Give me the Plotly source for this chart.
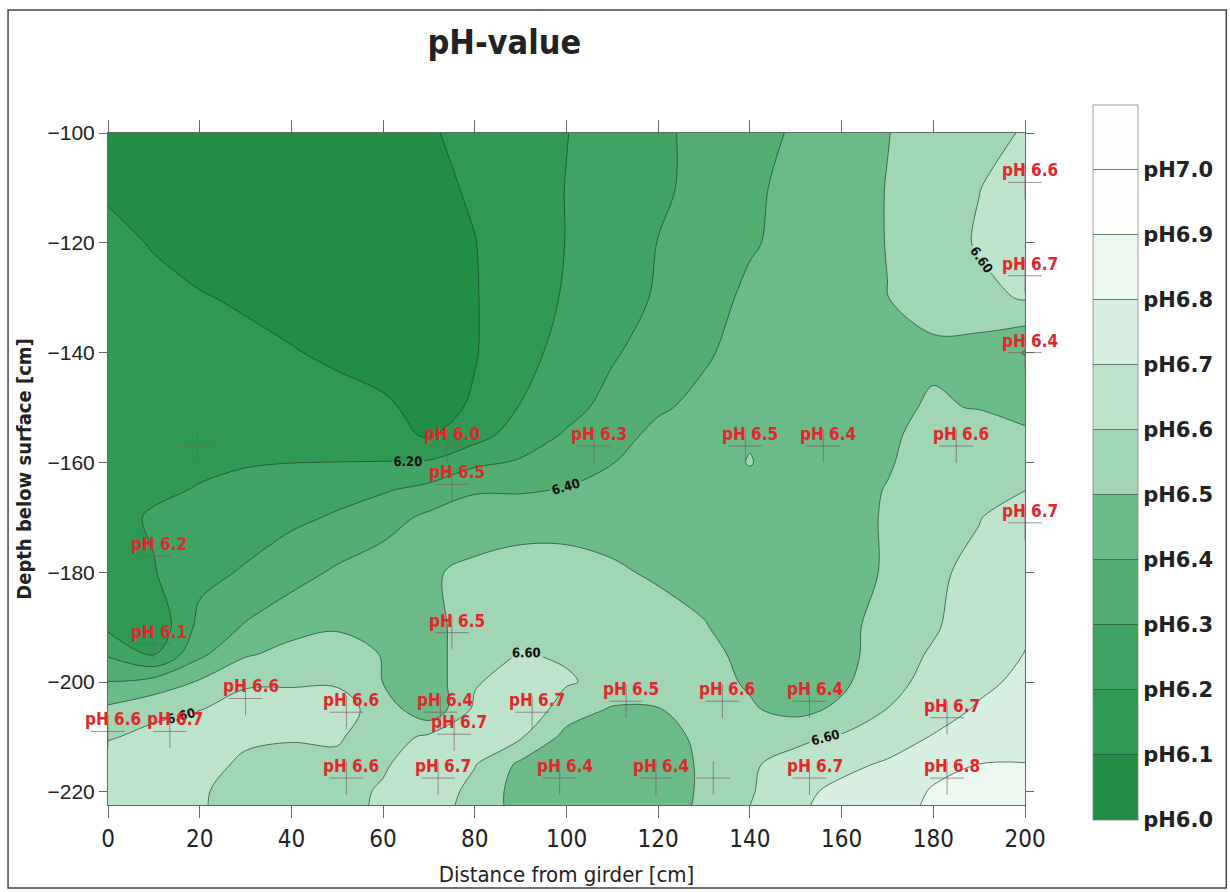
import plotly.graph_objects as go

# Grid of the interpolated pH field (distance from girder x depth below surface)
dist_cm = [0, 10, 20, 30, 40, 50, 60, 70, 80, 90, 100, 110, 120, 130, 140, 150, 160, 170, 180, 190, 200]
depth_cm = [-100, -110, -120, -130, -140, -150, -155, -160, -165, -170, -180, -190, -195,
            -200, -205, -210, -215, -220, -225]

ph_grid = [
    [6.06, 6.05, 6.04, 6.04, 6.04, 6.04, 6.05, 6.09, 6.13, 6.17, 6.198, 6.24, 6.28, 6.33, 6.37, 6.41, 6.45, 6.498, 6.53, 6.56, 6.61],
    [6.09, 6.07, 6.05, 6.04, 6.04, 6.04, 6.05, 6.08, 6.11, 6.16, 6.202, 6.24, 6.285, 6.325, 6.38, 6.43, 6.47, 6.502, 6.55, 6.598, 6.64],
    [6.12, 6.095, 6.07, 6.05, 6.04, 6.04, 6.04, 6.06, 6.098, 6.15, 6.202, 6.25, 6.302, 6.34, 6.39, 6.43, 6.47, 6.502, 6.55, 6.61, 6.68],
    [6.14, 6.12, 6.105, 6.09, 6.07, 6.05, 6.05, 6.05, 6.095, 6.15, 6.21, 6.26, 6.31, 6.36, 6.42, 6.45, 6.48, 6.499, 6.53, 6.57, 6.61],
    [6.16, 6.15, 6.14, 6.12, 6.105, 6.085, 6.06, 6.06, 6.095, 6.16, 6.24, 6.29, 6.34, 6.39, 6.43, 6.46, 6.48, 6.49, 6.485, 6.46, 6.395],
    [6.17, 6.17, 6.16, 6.15, 6.14, 6.13, 6.115, 6.07, 6.11, 6.205, 6.27, 6.33, 6.39, 6.42, 6.46, 6.45, 6.44, 6.48, 6.51, 6.495, 6.48],
    [6.18, 6.18, 6.18, 6.17, 6.16, 6.15, 6.13, 6.09, 6.16, 6.25, 6.31, 6.37, 6.42, 6.45, 6.49, 6.44, 6.44, 6.485, 6.53, 6.56, 6.51],
    [6.19, 6.19, 6.185, 6.195, 6.199, 6.201, 6.203, 6.21, 6.28, 6.31, 6.36, 6.398, 6.43, 6.45, 6.505, 6.44, 6.44, 6.49, 6.55, 6.58, 6.56],
    [6.17, 6.185, 6.205, 6.22, 6.24, 6.27, 6.29, 6.33, 6.39, 6.39, 6.405, 6.43, 6.45, 6.46, 6.47, 6.45, 6.46, 6.505, 6.56, 6.59, 6.598],
    [6.17, 6.21, 6.23, 6.25, 6.28, 6.31, 6.36, 6.42, 6.45, 6.46, 6.47, 6.47, 6.47, 6.47, 6.46, 6.45, 6.46, 6.51, 6.57, 6.595, 6.66],
    [6.15, 6.195, 6.27, 6.31, 6.36, 6.415, 6.45, 6.49, 6.52, 6.54, 6.53, 6.51, 6.49, 6.47, 6.45, 6.44, 6.46, 6.51, 6.58, 6.63, 6.67],
    [6.18, 6.12, 6.33, 6.41, 6.47, 6.49, 6.49, 6.48, 6.53, 6.57, 6.57, 6.55, 6.53, 6.505, 6.46, 6.43, 6.47, 6.54, 6.59, 6.65, 6.69],
    [6.29, 6.19, 6.38, 6.49, 6.53, 6.55, 6.495, 6.46, 6.56, 6.605, 6.59, 6.57, 6.55, 6.53, 6.47, 6.42, 6.46, 6.56, 6.61, 6.66, 6.702],
    [6.402, 6.44, 6.51, 6.59, 6.59, 6.59, 6.498, 6.44, 6.59, 6.65, 6.61, 6.57, 6.55, 6.53, 6.49, 6.42, 6.48, 6.57, 6.63, 6.68, 6.72],
    [6.52, 6.57, 6.598, 6.63, 6.64, 6.64, 6.56, 6.42, 6.62, 6.68, 6.55, 6.49, 6.495, 6.55, 6.51, 6.47, 6.52, 6.602, 6.66, 6.71, 6.74],
    [6.59, 6.63, 6.64, 6.62, 6.61, 6.61, 6.55, 6.62, 6.66, 6.61, 6.47, 6.44, 6.45, 6.53, 6.56, 6.58, 6.61, 6.66, 6.705, 6.74, 6.77],
    [6.66, 6.67, 6.64, 6.58, 6.56, 6.58, 6.59, 6.65, 6.605, 6.48, 6.42, 6.41, 6.43, 6.52, 6.59, 6.63, 6.68, 6.71, 6.77, 6.801, 6.802],
    [6.68, 6.66, 6.62, 6.53, 6.54, 6.57, 6.61, 6.66, 6.57, 6.46, 6.41, 6.402, 6.43, 6.52, 6.59, 6.68, 6.72, 6.74, 6.81, 6.84, 6.85],
    [6.69, 6.66, 6.62, 6.52, 6.52, 6.56, 6.62, 6.64, 6.56, 6.47, 6.42, 6.41, 6.44, 6.53, 6.61, 6.69, 6.74, 6.77, 6.82, 6.86, 6.87],
]

# Measurement points
pt_dist = [200, 200, 200, 200, 185, 156, 139, 106, 74, 75, 10, 10, 75, 30, 0, 13.5, 52, 72.5, 75.5,
           92.5, 113, 134, 153, 183, 52, 72, 98.5, 119.5, 153, 183, 0, 32]
pt_depth = [-109, -126, -140, -171, -157, -157, -157, -157, -157, -164, -177, -193, -191, -203, -209,
            -209, -205.5, -205.5, -209.5, -205.5, -203.5, -203.5, -203.5, -206.5, -217.5, -217.5,
            -217.5, -217.5, -217.5, -217.5, -222.5, -222.5]
pt_ph = [6.6, 6.7, 6.4, 6.7, 6.6, 6.4, 6.5, 6.3, 6.0, 6.5, 6.2, 6.1, 6.5, 6.6, 6.6, 6.7, 6.6, 6.4, 6.7,
         6.7, 6.5, 6.6, 6.4, 6.7, 6.6, 6.7, 6.4, 6.4, 6.7, 6.8, 6.7, 6.5]

# Sampling positions without a reading
blank_dist = [19.5, 132, 15]
blank_depth = [-157, -217.5, -222.5]

# Colour bar levels
bar_levels = [6.0, 6.1, 6.2, 6.3, 6.4, 6.5, 6.6, 6.7, 6.8, 6.9, 7.0]
bar_labels = ["pH6.0", "pH6.1", "pH6.2", "pH6.3", "pH6.4", "pH6.5", "pH6.6", "pH6.7", "pH6.8", "pH6.9", "pH7.0"]

band_colors = [
    "rgb(34,142,70)", "rgb(47,152,82)", "rgb(64,163,97)", "rgb(84,174,113)",
    "rgb(107,186,135)", "rgb(132,199,156)", "rgb(160,214,180)", "rgb(189,228,203)",
    "rgb(216,240,225)", "rgb(237,248,241)", "rgb(252,254,252)",
]
n_bands = len(band_colors)
colorscale = []
for i, c in enumerate(band_colors):
    colorscale.append([i / n_bands, c])
    colorscale.append([(i + 1) / n_bands, c])

line_col = "rgba(25,70,45,0.7)"

fig = go.Figure()

# filled bands
fig.add_trace(go.Contour(
    x=dist_cm, y=depth_cm, z=ph_grid,
    zmin=6.0, zmax=7.1, zauto=False,
    colorscale=colorscale,
    contours=dict(start=6.0, end=7.1, size=0.1, coloring="fill", showlines=False),
    line=dict(width=0, smoothing=1.0),
    colorbar=dict(
        x=1.0633, xanchor="left", y=0.5104, yanchor="middle",
        thickness=45, thicknessmode="pixels", len=735, lenmode="pixels",
        outlinecolor="rgba(120,120,120,0.7)", outlinewidth=1,
        tickmode="array", tickvals=bar_levels, ticktext=bar_labels,
        ticks="inside", ticklen=45, tickwidth=1, tickcolor="rgba(40,80,55,0.7)",
        tickfont=dict(family="DejaVu Sans", size=21, color="#222", weight="bold"),
    ),
    hoverinfo="skip",
))

# unlabelled isolines
fig.add_trace(go.Contour(
    x=dist_cm, y=depth_cm, z=ph_grid,
    contours=dict(start=6.1, end=6.9, size=0.2, coloring="none"),
    line=dict(width=1, color=line_col, smoothing=1.0),
    showscale=False, hoverinfo="skip",
))
fig.add_trace(go.Contour(
    x=dist_cm, y=depth_cm, z=ph_grid,
    contours=dict(start=6.8, end=6.8, size=0.1, coloring="none"),
    line=dict(width=1, color=line_col, smoothing=1.0),
    showscale=False, hoverinfo="skip",
))
# labelled isolines
fig.add_trace(go.Contour(
    x=dist_cm, y=depth_cm, z=ph_grid,
    contours=dict(start=6.2, end=6.6, size=0.2, coloring="none", showlabels=True,
                  labelformat=".2f",
                  labelfont=dict(family="DejaVu Sans Condensed", size=13, color="#111", weight="bold")),
    line=dict(width=1, color=line_col, smoothing=1.0),
    showscale=False, hoverinfo="skip",
))

# sampling crosses
fig.add_trace(go.Scatter(
    x=pt_dist + blank_dist, y=pt_depth + blank_depth, mode="markers",
    marker=dict(symbol="cross-thin", size=24, line=dict(width=1, color="rgba(120,100,95,0.7)")),
    cliponaxis=False, hoverinfo="skip", showlegend=False,
))

annotations = []
for xd, yd, v in zip(pt_dist, pt_depth, pt_ph):
    annotations.append(dict(
        x=xd, y=yd, xref="x", yref="y", text=f"pH {v:.1f}", showarrow=False,
        xanchor="center", yanchor="bottom", xshift=5, yshift=0,
        font=dict(family="DejaVu Sans Condensed, sans-serif",
                  size=17, color="#e3262b", weight="bold"),
    ))

fig.update_layout(
    width=1230, height=892,
    margin=dict(l=108, r=205, t=133, b=87, autoexpand=False),
    paper_bgcolor="white", plot_bgcolor="white",
    showlegend=False,
    title=dict(text="<b>pH-value</b>", x=0.41, xanchor="center", y=0.953, yanchor="middle",
               font=dict(family="DejaVu Sans Condensed", size=34, color="#222")),
    annotations=annotations,
    shapes=[dict(type="rect", xref="paper", yref="paper", x0=-0.109, x1=1.2195, y0=-0.1235, y1=1.183,
                 line=dict(color="#444", width=1.5), fillcolor="rgba(0,0,0,0)", layer="above")],
    xaxis=dict(
        range=[0, 200], tickmode="array", tickvals=[0, 20, 40, 60, 80, 100, 120, 140, 160, 180, 200],
        ticks="outside", ticklen=12, tickcolor="#666", showline=True, linecolor="#666", mirror="ticks",
        showgrid=False, zeroline=False,
        tickfont=dict(family="DejaVu Sans Condensed, sans-serif", size=24, color="#222"),
        title=dict(text="Distance from girder [cm]", standoff=14,
                   font=dict(family="DejaVu Sans Condensed", size=22, color="#222")),
    ),
    yaxis=dict(
        range=[-222.4, -100], tickmode="array", tickvals=[-100, -120, -140, -160, -180, -200, -220],
        ticks="outside", ticklen=8, tickcolor="#666", showline=True, linecolor="#666", mirror="ticks",
        showgrid=False, zeroline=False,
        tickfont=dict(family="Liberation Sans, sans-serif", size=21, color="#222"),
        title=dict(text="<b>Depth below surface [cm]</b>", standoff=10,
                   font=dict(family="DejaVu Sans Condensed", size=20, color="#222")),
    ),
)

fig.write_html("out.html")
